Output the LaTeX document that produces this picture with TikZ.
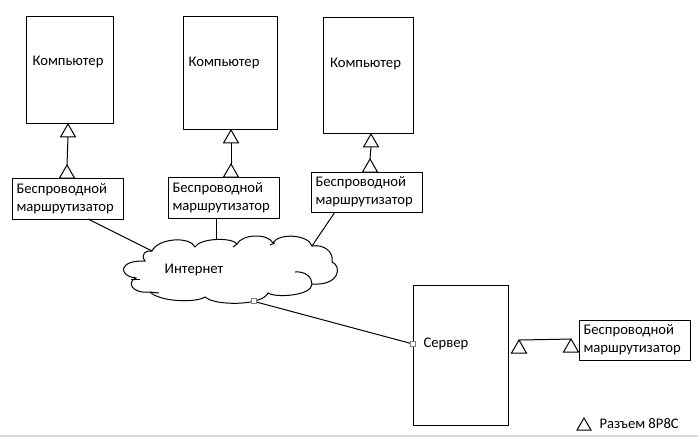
\documentclass[tikz,border=0pt]{standalone}
\usepackage{fontspec}
\setmainfont{Carlito}
\usetikzlibrary{shapes.geometric,calc}
\begin{document}
\begin{tikzpicture}[x=1pt,y=-1pt,line width=1pt,
  box/.style={draw,rectangle,inner sep=0pt,outer sep=0pt,anchor=north west},
  router/.style={draw,rectangle,anchor=north west,align=left,inner xsep=4.5pt,inner ysep=0pt,outer sep=0pt,font=\fontsize{14.67}{18}\selectfont},
  txt/.style={inner sep=0pt,font=\fontsize{14.67}{18}\selectfont},
  jack/.style={draw,fill=white,regular polygon,regular polygon sides=3,minimum size=17.3pt,inner sep=0pt,outer sep=0pt},
  port/.style={draw=gray,fill=white,rectangle,minimum size=5pt,inner sep=0pt,line width=0.8pt},
]
\useasboundingbox (0,0) rectangle (698,437);
\draw[gray!30,line width=1.5pt] (0,436) -- (698,436);

% computers
\node[box,minimum width=87pt,minimum height=107pt] (pc1) at (26,16) {};
\node[box,minimum width=94pt,minimum height=113pt] (pc2) at (183,16) {};
\node[box,minimum width=90pt,minimum height=116pt] (pc3) at (323,17) {};
\node[txt] (pc1t) at (68,62) {Компьютер};
\node[txt] (pc2t) at (224,63) {Компьютер};
\node[txt] (pc3t) at (365.5,64) {Компьютер};

% routers
\node[router,text width=102pt,minimum height=41pt] (r1) at (12,178) {Беспроводной\\маршрутизатор};
\node[router,text width=102pt,minimum height=41pt] (r2) at (168,177) {Беспроводной\\маршрутизатор};
\node[router,text width=102pt,minimum height=40pt] (r3) at (311,172) {Беспроводной\\маршрутизатор};
\node[router,text width=102pt,minimum height=40pt] (r4) at (579,320) {Беспроводной\\маршрутизатор};

% jacks computer <-> router
\node[jack,anchor=corner 1] (j1u) at (68,124) {};
\node[jack,anchor=side 2] (j1d) at (67,178) {};
\draw (j1u.side 2) -- (j1d.corner 1);
\node[jack,anchor=corner 1] (j2u) at (231,130) {};
\node[jack,anchor=side 2] (j2d) at (231,177) {};
\draw (j2u.side 2) -- (j2d.corner 1);
\node[jack,anchor=corner 1] (j3u) at (371,134) {};
\node[jack,anchor=side 2] (j3d) at (370,172) {};
\draw (j3u.side 2) -- (j3d.corner 1);

% cloud
\draw (152,251) coordinate (ca)
  .. controls (158,238) and (190,236) .. (195,247)
  .. controls (200,238) and (232,237) .. (237,244) coordinate[pos=0.5] (cb)
  .. controls (242,234) and (268,233) .. (273,243)
  .. controls (278,233) and (308,234) .. (312,246) coordinate (cc)
  .. controls (324,244) and (334,252) .. (332,262)
  .. controls (342,266) and (340,286) .. (312,284)
  .. controls (312,296) and (275,298) .. (268,293)
  .. controls (262,306) and (215,306) .. (205,297) coordinate[pos=0.3] (cd)
  .. controls (196,303) and (160,302) .. (150,292)
  .. controls (132,294) and (126,282) .. (136,278)
  .. controls (118,276) and (118,260) .. (145,261)
  .. controls (140,254) and (146,250) .. (152,251);
\draw (295,272) .. controls (305,271) and (312,277) .. (312,284);
\draw (150,292) -- (159,293);
\draw (131,279) -- (140,279);
\draw (233,247) -- (237,244);
\draw (270,245) -- (275,243);
\node[txt] (net) at (194,270) {Интернет};

% server
\node[box,minimum width=95pt,minimum height=140pt] (srv) at (413,285) {};
\node[txt,anchor=west] (srvt) at (423,344) {Сервер};

% connections to cloud
\draw ($(r1.south west)+(76,0)$) -- (ca);
\draw (r2.south -| cb) -- (cb);
\draw ($(r3.south west)+(24,0)$) -- (cc);
\draw (cd) -- (srv.west |- srvt.west);
\node[port] (p1) at (cd) {};
\node[port] (p2) at (srv.west |- srvt.west) {};

% server <-> right router
\node[jack,anchor=side 2] (j4a) at (519,353) {};
\node[jack,anchor=side 2] (j4b) at (571,352) {};
\draw (j4a.corner 1) -- (j4b.corner 1);

% legend
\node[jack,minimum size=16pt,anchor=side 2] (jl) at (584,430) {};
\node[txt,anchor=west] (lg) at (599,424) {Разъем 8P8C};
\end{tikzpicture}
\end{document}
